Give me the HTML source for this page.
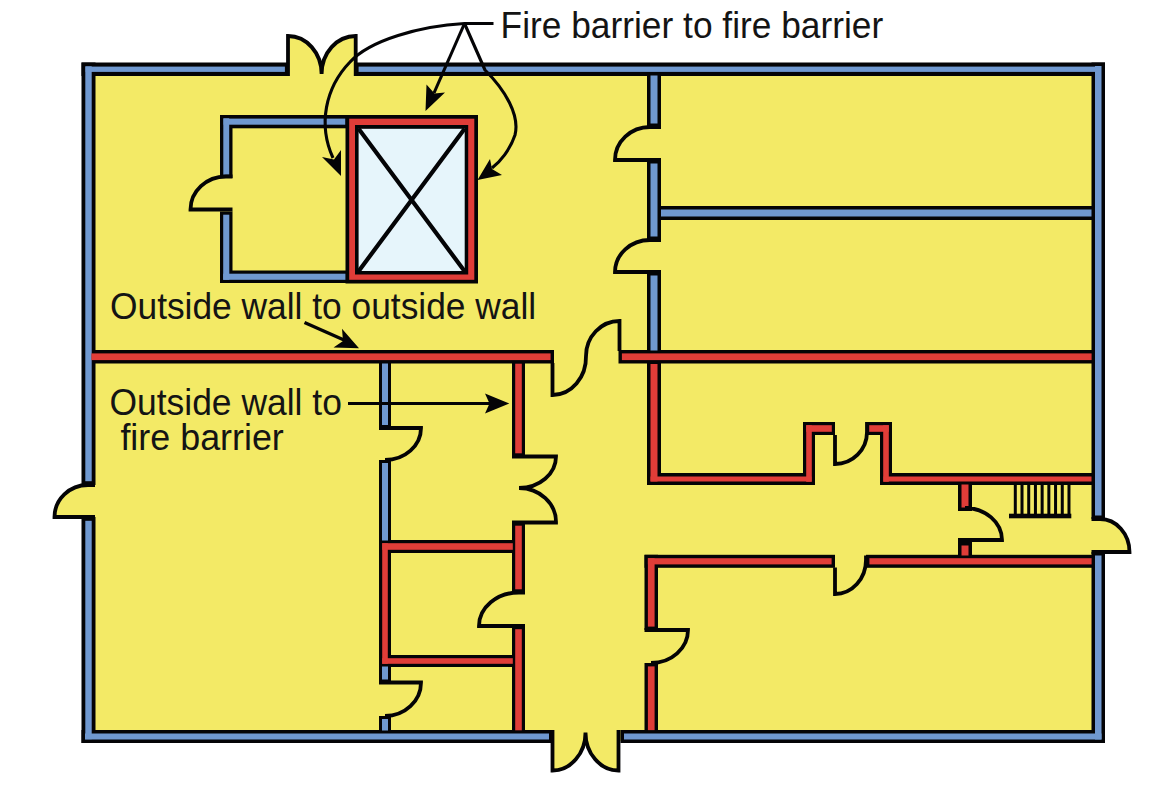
<!DOCTYPE html>
<html><head><meta charset="utf-8"><style>
html,body{margin:0;padding:0;background:#fff;width:1174px;height:788px;overflow:hidden}
svg{display:block}
text{font-family:"Liberation Sans",sans-serif}
</style></head><body>
<svg width="1174" height="788" viewBox="0 0 1174 788"><rect width="1174" height="788" fill="#fff"/><rect x="84" y="64" width="1019" height="677" fill="#f3ea66"/>
<path d="M288,76 L288,36 A33.6 38 0 0 1 321.6,74 A34.1 38 0 0 1 355.7,36 L355.7,76 Z" fill="#f3ea66"/>
<path d="M552.5,730 L552.5,770.5 A33 38 0 0 0 585.5,732.5 A33 38 0 0 0 618.5,770.5 L618.5,730 Z" fill="#f3ea66"/>
<path d="M95,485 L88,485 A33.5 32 0 0 0 54.5,517 L95,517 Z" fill="#f3ea66"/>
<path d="M1091.5,519 L1100,519 A29.5 33 0 0 1 1129.5,552 L1091.5,552 Z" fill="#f3ea66"/>
<rect x="81.5" y="62.5" width="207.50" height="13.50" fill="#040406"/>
<rect x="354.5" y="62.5" width="750.50" height="13.50" fill="#040406"/>
<rect x="81.5" y="62.5" width="14.00" height="422.50" fill="#040406"/>
<rect x="81.5" y="517" width="14.00" height="226.00" fill="#040406"/>
<rect x="81.5" y="730" width="471.00" height="13.00" fill="#040406"/>
<rect x="620.5" y="730" width="484.50" height="13.00" fill="#040406"/>
<rect x="1091.5" y="62.5" width="13.50" height="456.50" fill="#040406"/>
<rect x="1091.5" y="552" width="13.50" height="191.00" fill="#040406"/>
<rect x="220" y="115" width="12.50" height="63.00" fill="#040406"/>
<rect x="220" y="211.5" width="12.50" height="71.50" fill="#040406"/>
<rect x="220" y="115" width="129.00" height="13.30" fill="#040406"/>
<rect x="220" y="270.5" width="129.00" height="12.50" fill="#040406"/>
<rect x="647" y="72" width="14.00" height="55.00" fill="#040406"/>
<rect x="647" y="160" width="14.00" height="80.00" fill="#040406"/>
<rect x="647" y="272" width="14.00" height="82.00" fill="#040406"/>
<rect x="657.5" y="206" width="437.50" height="14.00" fill="#040406"/>
<rect x="88" y="350" width="466.00" height="13.50" fill="#040406"/>
<rect x="618.5" y="350" width="476.50" height="13.50" fill="#040406"/>
<rect x="647" y="360.5" width="14.00" height="124.50" fill="#040406"/>
<rect x="647" y="473" width="168.00" height="12.00" fill="#040406"/>
<rect x="803" y="422" width="12.00" height="63.00" fill="#040406"/>
<rect x="803" y="422" width="32.00" height="13.00" fill="#040406"/>
<rect x="866" y="422" width="26.00" height="13.00" fill="#040406"/>
<rect x="880" y="422" width="12.00" height="63.00" fill="#040406"/>
<rect x="880" y="473" width="215.00" height="12.00" fill="#040406"/>
<rect x="958" y="481" width="14.00" height="30.00" fill="#040406"/>
<rect x="958" y="542" width="14.00" height="17.00" fill="#040406"/>
<rect x="644.5" y="554.8" width="190.50" height="13.00" fill="#040406"/>
<rect x="866" y="554.8" width="229.00" height="13.00" fill="#040406"/>
<rect x="644.5" y="554.8" width="13.50" height="75.20" fill="#040406"/>
<rect x="644.5" y="663" width="13.50" height="70.50" fill="#040406"/>
<rect x="379" y="360.5" width="12.00" height="67.50" fill="#040406"/>
<rect x="379" y="460" width="12.00" height="83.50" fill="#040406"/>
<rect x="379" y="540" width="137.00" height="13.00" fill="#040406"/>
<rect x="379" y="540" width="12.00" height="127.00" fill="#040406"/>
<rect x="379" y="655" width="137.00" height="12.00" fill="#040406"/>
<rect x="379" y="663.5" width="12.00" height="19.00" fill="#040406"/>
<rect x="379" y="716" width="12.00" height="17.50" fill="#040406"/>
<rect x="512" y="360.5" width="13.00" height="96.00" fill="#040406"/>
<rect x="512" y="522.5" width="13.00" height="70.00" fill="#040406"/>
<rect x="512" y="626" width="13.00" height="107.50" fill="#040406"/>
<rect x="85.6" y="66.6" width="199.30" height="5.30" fill="#6f98d0"/>
<rect x="358.6" y="66.6" width="742.30" height="5.30" fill="#6f98d0"/>
<rect x="85.3" y="66.3" width="6.40" height="414.90" fill="#6f98d0"/>
<rect x="85.3" y="520.8" width="6.40" height="218.40" fill="#6f98d0"/>
<rect x="85.0" y="733.5" width="464.00" height="6.00" fill="#6f98d0"/>
<rect x="624.0" y="733.5" width="477.50" height="6.00" fill="#6f98d0"/>
<rect x="1095.0" y="66.0" width="6.50" height="449.50" fill="#6f98d0"/>
<rect x="1095.0" y="555.5" width="6.50" height="184.00" fill="#6f98d0"/>
<rect x="223.3" y="118.3" width="5.90" height="56.40" fill="#6f98d0"/>
<rect x="223.2" y="214.7" width="6.10" height="65.10" fill="#6f98d0"/>
<rect x="223.6" y="118.6" width="121.80" height="6.10" fill="#6f98d0"/>
<rect x="223.2" y="273.7" width="122.60" height="6.10" fill="#6f98d0"/>
<rect x="650.5" y="75.5" width="7.00" height="48.00" fill="#6f98d0"/>
<rect x="650.5" y="163.5" width="7.00" height="73.00" fill="#6f98d0"/>
<rect x="650.5" y="275.5" width="7.00" height="75.00" fill="#6f98d0"/>
<rect x="661.0" y="209.5" width="430.50" height="7.00" fill="#6f98d0"/>
<rect x="91.4" y="353.4" width="459.20" height="6.70" fill="#e03d38"/>
<rect x="621.9" y="353.4" width="469.70" height="6.70" fill="#e03d38"/>
<rect x="650.5" y="364.0" width="7.00" height="117.50" fill="#e03d38"/>
<rect x="650.5" y="476.5" width="161.00" height="5.00" fill="#e03d38"/>
<rect x="806.2" y="425.2" width="5.60" height="56.60" fill="#e03d38"/>
<rect x="806.2" y="425.2" width="25.60" height="6.60" fill="#e03d38"/>
<rect x="869.2" y="425.2" width="19.60" height="6.60" fill="#e03d38"/>
<rect x="883.2" y="425.2" width="5.60" height="56.60" fill="#e03d38"/>
<rect x="883.5" y="476.5" width="208.00" height="5.00" fill="#e03d38"/>
<rect x="961.5" y="484.5" width="7.00" height="23.00" fill="#e03d38"/>
<rect x="961.5" y="545.5" width="7.00" height="10.00" fill="#e03d38"/>
<rect x="647.9" y="558.1999999999999" width="183.70" height="6.20" fill="#e03d38"/>
<rect x="869.4" y="558.1999999999999" width="222.20" height="6.20" fill="#e03d38"/>
<rect x="647.9" y="558.1999999999999" width="6.70" height="68.40" fill="#e03d38"/>
<rect x="647.9" y="666.4" width="6.70" height="63.70" fill="#e03d38"/>
<rect x="382" y="363.5" width="6.00" height="61.50" fill="#6f98d0"/>
<rect x="382" y="463" width="6.00" height="77.50" fill="#6f98d0"/>
<rect x="382.2" y="543.2" width="130.60" height="6.60" fill="#e03d38"/>
<rect x="382.2" y="543.2" width="5.60" height="120.60" fill="#e03d38"/>
<rect x="382.2" y="658.2" width="130.60" height="5.60" fill="#e03d38"/>
<rect x="382" y="666.5" width="6.00" height="13.00" fill="#6f98d0"/>
<rect x="382" y="719" width="6.00" height="11.50" fill="#6f98d0"/>
<rect x="515.2" y="363.7" width="6.60" height="89.60" fill="#e03d38"/>
<rect x="515.2" y="525.7" width="6.60" height="63.60" fill="#e03d38"/>
<rect x="515.2" y="629.2" width="6.60" height="101.10" fill="#e03d38"/>
<rect x="345.5" y="115" width="132.5" height="168.5" fill="#040406"/>
<rect x="349.2" y="118.7" width="125.1" height="161.1" fill="#e03d38"/>
<rect x="355" y="125" width="113.2" height="149.5" fill="#040406"/>
<rect x="358.6" y="128.8" width="106.1" height="142.2" fill="#e6f5fb"/>
<path d="M358.6,128.8 L464.6,271.2 M464.6,128.8 L358.6,271.2" stroke="#040406" stroke-width="4.2"/>
<path d="M288,76 L288,36 A33.6 38 0 0 1 321.6,74 A34.1 38 0 0 1 355.7,36 L355.7,76" fill="none" stroke="#040406" stroke-width="3.8" stroke-linejoin="miter"/>
<path d="M552.5,730 L552.5,770.5 A33 38 0 0 0 585.5,732.5 A33 38 0 0 0 618.5,770.5 L618.5,730" fill="none" stroke="#040406" stroke-width="3.8" stroke-linejoin="miter"/>
<path d="M95,485 L88,485 A33.5 32 0 0 0 54.5,517 L95,517" fill="none" stroke="#040406" stroke-width="3.8" stroke-linejoin="miter"/>
<path d="M1091.5,519 L1100,519 A29.5 33 0 0 1 1129.5,552 L1091.5,552" fill="none" stroke="#040406" stroke-width="3.8" stroke-linejoin="miter"/>
<path d="M232.5,176.5 L226,176.5 A35.5 33 0 0 0 190.5,209.5 L232.5,209.5" fill="none" stroke="#040406" stroke-width="3.8" stroke-linejoin="miter"/>
<path d="M661,127 L650,127 A35 33 0 0 0 615,160 L661,160" fill="none" stroke="#040406" stroke-width="3.8" stroke-linejoin="miter"/>
<path d="M661,240 L650,240 A35 32 0 0 0 615,272 L661,272" fill="none" stroke="#040406" stroke-width="3.8" stroke-linejoin="miter"/>
<path d="M552.5,363 L552.5,395 A33.5 38 0 0 0 586,356 A33.5 35 0 0 1 619.5,321 L619.5,351" fill="none" stroke="#040406" stroke-width="3.8" stroke-linejoin="miter"/>
<path d="M512,456.5 L556,456.5 A37 31.5 0 0 1 519,488 A37 34 0 0 1 556,522.5 L512,522.5" fill="none" stroke="#040406" stroke-width="3.8" stroke-linejoin="miter"/>
<path d="M525,592.5 L519,592.5 A40 33.5 0 0 0 479,626 L525,626" fill="none" stroke="#040406" stroke-width="3.8" stroke-linejoin="miter"/>
<path d="M379,428 L421,428 A36 32 0 0 1 385,460 L391,460" fill="none" stroke="#040406" stroke-width="3.8" stroke-linejoin="miter"/>
<path d="M379,682.5 L421,682.5 A36 33.5 0 0 1 385,716 L391,716" fill="none" stroke="#040406" stroke-width="3.8" stroke-linejoin="miter"/>
<path d="M644.5,630 L688,630 A37 33 0 0 1 651,663 L658,663" fill="none" stroke="#040406" stroke-width="3.8" stroke-linejoin="miter"/>
<path d="M835,435 L835,464 A32 32 0 0 0 867,432 L867,422" fill="none" stroke="#040406" stroke-width="3.8" stroke-linejoin="miter"/>
<path d="M835,567.5 L835,594 A31 34 0 0 0 866,560 L866,555.5" fill="none" stroke="#040406" stroke-width="3.8" stroke-linejoin="miter"/>
<path d="M958,540 L1002,540 A37 32 0 0 0 965,508 L972,508" fill="none" stroke="#040406" stroke-width="3.8" stroke-linejoin="miter"/>
<rect x="1013.80" y="484" width="3" height="31" fill="#040406"/>
<rect x="1020.51" y="484" width="3" height="31" fill="#040406"/>
<rect x="1027.22" y="484" width="3" height="31" fill="#040406"/>
<rect x="1033.93" y="484" width="3" height="31" fill="#040406"/>
<rect x="1040.64" y="484" width="3" height="31" fill="#040406"/>
<rect x="1047.35" y="484" width="3" height="31" fill="#040406"/>
<rect x="1054.06" y="484" width="3" height="31" fill="#040406"/>
<rect x="1060.77" y="484" width="3" height="31" fill="#040406"/>
<rect x="1067.48" y="484" width="3" height="31" fill="#040406"/>
<rect x="1009" y="513.7" width="62.3" height="4.6" fill="#040406"/>
<path d="M493.5,23.5 L464.5,23.5 C420,26 370,40 350,62 C325,88 318,125 333,158" fill="none" stroke="#040406" stroke-width="3.1"/>
<path d="M464.5,23.5 L434,93" fill="none" stroke="#040406" stroke-width="3.1"/>
<path d="M464.5,23.5 L485,70 C505,90 520,115 515,135 C510,150 500,162 492,168" fill="none" stroke="#040406" stroke-width="3.1"/>
<path d="M341,176 L322,157 L334,159.5 L341,150 Z" fill="#040406"/>
<path d="M425.5,111 L426.5,84.5 L434.5,93.5 L445,92.5 Z" fill="#040406"/>
<path d="M477.5,180 L490,159 L492,169 L502,175 Z" fill="#040406"/>
<path d="M304.5,322.5 L344,340" fill="none" stroke="#040406" stroke-width="3.3"/>
<path d="M359,348.2 L333.5,347.5 L343,341 L342,328.8 Z" fill="#040406"/>
<path d="M348,403.5 L490,403.5" fill="none" stroke="#040406" stroke-width="3.1"/>
<path d="M509.3,403.5 L485,393.6 L489.5,403.5 L485,413.4 Z" fill="#040406"/>
<text transform="translate(500.6,38) scale(1.009,1.04)" font-family="Liberation Sans, sans-serif" font-size="35" fill="#141414">Fire barrier to fire barrier</text>
<text transform="translate(110,319.1) scale(1.01,1.04)" font-family="Liberation Sans, sans-serif" font-size="35" fill="#141414">Outside wall to outside wall</text>
<text transform="translate(109.4,414.7) scale(1.013,1.04)" font-family="Liberation Sans, sans-serif" font-size="35" fill="#141414">Outside wall to</text>
<text transform="translate(120.4,449.8) scale(1.025,1.04)" font-family="Liberation Sans, sans-serif" font-size="35" fill="#141414">fire barrier</text></svg>
</body></html>
